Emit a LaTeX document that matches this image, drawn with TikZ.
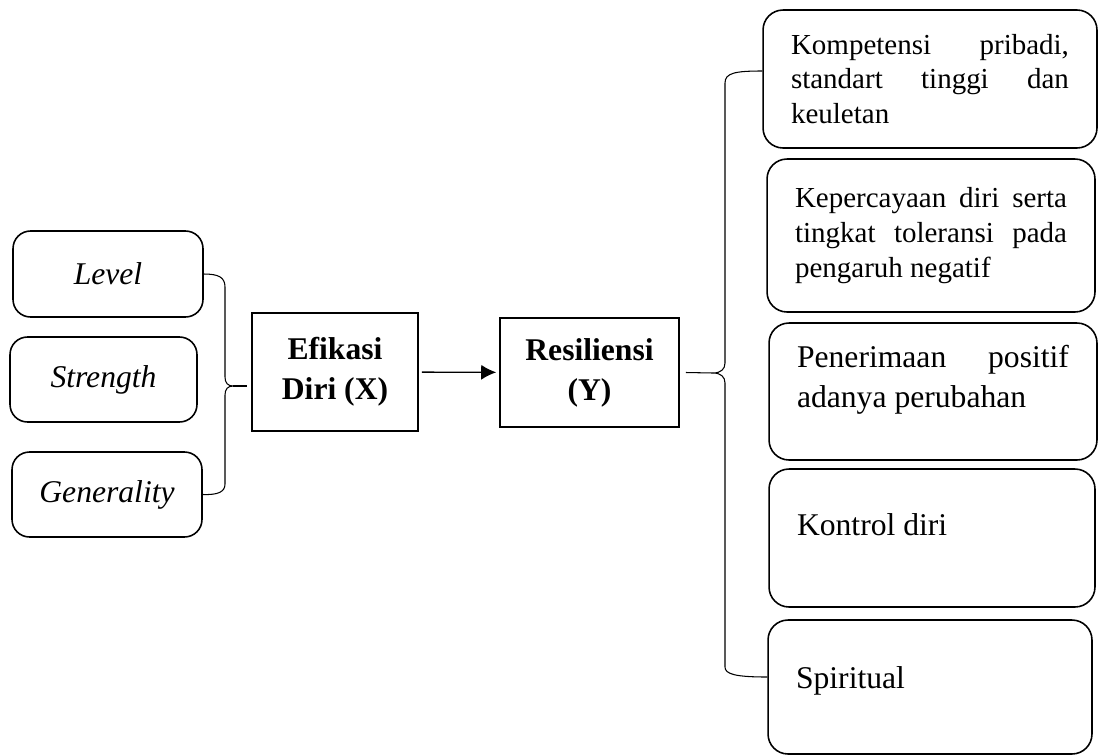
\documentclass[tikz,border=0pt]{standalone}
\usepackage{fontspec}
\setmainfont{Liberation Serif}
\usetikzlibrary{arrows.meta}
\hyphenpenalty=10000
\tolerance=10000

\begin{document}
\begin{tikzpicture}[
  x=0.02cm,
  y=-0.02cm,
  every node/.style={
    draw,
    rectangle,
    line width=0.9pt,
  },
  >={Latex[length=0.3cm,width=0.3cm]},
  dimbox/.style={rounded corners=0.35cm,minimum width=3.8cm,minimum height=1.72cm,font=\fontsize{18}{21.6}\selectfont\itshape},
  varbox/.style={align=center,font=\fontsize{18}{22.7}\selectfont\bfseries},
  indbox/.style={rounded corners=0.4cm,inner xsep=0.56cm,align=justify},
  smalltext/.style={font=\fontsize{16.5}{19.8}\selectfont},
  bigtext/.style={font=\fontsize{18}{22.7}\selectfont},
  bracket/.style={line width=0.6pt}
]
\useasboundingbox (0,0) rectangle (1098,754);

\node[dimbox] at (108,274) (level) {Level};
\node[dimbox,minimum width=3.74cm,minimum height=1.7cm] at (103.5,379.5) (strength) {Strength};
\node[dimbox,minimum height=1.7cm] at (107,494.5) (generality) {Generality};

\node[varbox,minimum width=3.32cm,minimum height=2.36cm] at (335,372) (efikasi) {Efikasi\\Diri (X)};
\node[varbox,minimum width=3.58cm,minimum height=2.18cm] at (589.5,372.5) (resiliensi) {Resiliensi\\(Y)};

\node[indbox,smalltext,text width=5.56cm,minimum height=2.76cm] at (930,79) (kompetensi) {Kompetensi pribadi, standart tinggi dan keuletan};
\node[indbox,smalltext,text width=5.44cm,minimum height=3.06cm] at (931,235.5) (kepercayaan) {Kepercayaan diri serta tingkat toleransi pada pengaruh negatif};
\node[indbox,bigtext,text width=5.44cm,minimum height=2.74cm,text depth=1.42cm] at (933,391.5) (penerimaan) {Penerimaan positif adanya perubahan};
\node[indbox,bigtext,text width=5.4cm,minimum height=2.76cm,text depth=0.53cm] at (932,538) (kontrol) {Kontrol diri};
\node[indbox,bigtext,text width=5.36cm,minimum height=2.68cm,text depth=0.38cm] at (930,687) (spiritual) {Spiritual};

\coordinate (xtip) at (247,386);

\path[draw,bracket] (level.east) .. controls (218,274) and (225,277) .. (225,287) -- (225,377) .. controls (225,383) and (228,386) .. (233,386) .. controls (228,386) and (225,389) .. (225,395) -- (225,484) .. controls (225,492) and (218,495) .. (generality.east);
\path[draw,bracket] (233,386) -- (xtip);

\path[draw,->,line width=0.8pt,shorten <=0.06cm,shorten >=0.06cm] (efikasi) -- (resiliensi);

\path[draw,bracket] ([yshift=0.16cm]kompetensi.west) .. controls (735,71) and (725,73) .. (725,83) -- (725,363) .. controls (725,369) and (721,373) .. (713,373) .. controls (721,373) and (725,377) .. (725,383) -- (725,667) .. controls (725,674) and (735,677) .. ([yshift=0.2cm]spiritual.west);
\path[draw,bracket] (713,373) -- ([xshift=0.12cm]resiliensi.east);
\end{tikzpicture}
\end{document}
